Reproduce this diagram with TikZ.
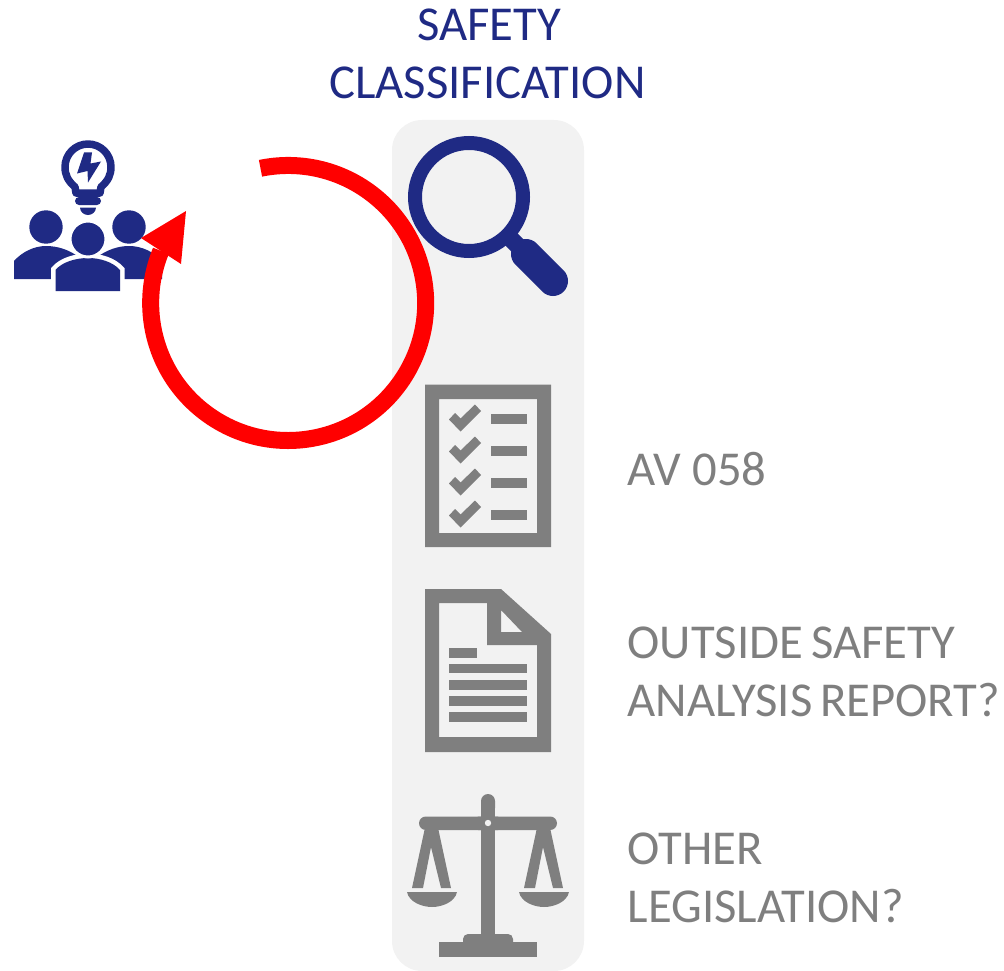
\documentclass[tikz,border=0pt]{standalone}
\usepackage{fontspec}
\setmainfont{Carlito}
\definecolor{navy}{HTML}{1F2A84}
\definecolor{icongrey}{HTML}{7F7F7F}
\definecolor{panelgrey}{HTML}{F2F2F2}
\definecolor{arcred}{HTML}{FF0000}
\tikzset{
  title/.style={text=navy,font=\fontsize{48.7}{48.7}\selectfont,anchor=base,inner sep=0pt},
  note/.style={text=icongrey,font=\fontsize{48.7}{48.7}\selectfont,anchor=base west,inner sep=0pt},
  navyfill/.style={fill=navy,draw=none},
  greyfill/.style={fill=icongrey,draw=none},
  holefill/.style={fill=panelgrey,draw=none}
}
\begin{document}
\begin{tikzpicture}[x=1pt,y=-1pt]
\useasboundingbox (0,0) rectangle (1004,971);
% panel
\fill[panelgrey,rounded corners=30pt] (392,120) rectangle (584,971);
% titles
\node[title] (t1) at (489,41) {SAFETY};
\node[title] (t2) at (487.5,99) {CLASSIFICATION};
% notes
\node[note] (n1) at (627.5,485.5) {AV 058};
\node[note] (n2) at (627.5,658.5) {OUTSIDE\hspace{-3pt} SAFETY};
\node[note] (n3) at (627.5,716.5) {ANALYSIS\hspace{-3pt} REPORT?};
\node[note] (n4) at (627.5,864.5) {OTHER};
\node[note] (n5) at (627.5,922.5) {LEGISLATION?};
% magnifier
\draw[navy,line width=14pt] (469,197) circle[radius=54pt];
\draw[navy,line width=17pt] (508,236) -- (530,258);
\draw[navy,line width=30pt,line cap=round] (526,254) -- (553,281);
% checklist
\fill[greyfill,even odd rule] (425,384.5) rectangle (551,547) (439,399) rectangle (537,533);
\foreach \y in {414,446,478,510}{
  \fill[greyfill] (491,\y) rectangle (527,\y+10);
  \fill[greyfill,shift={(0,\y-414)}] (449,419.5) -- (455,413) -- (460.5,418.5) -- (475,404.5) -- (481,411) -- (460.5,431.5) -- cycle;
}
% document
\fill[greyfill,even odd rule] (425,589) -- (501,589) -- (551,634) -- (551,752) -- (425,752) -- cycle
  (439,603) -- (487,603) -- (487,645) -- (537,645) -- (537,737) -- (439,737) -- cycle
  (501,610) -- (501,632) -- (522,632) -- cycle;
\fill[greyfill] (449,647.5) rectangle (477,657.5);
\foreach \y in {663.5,680,696,712}{\fill[greyfill] (449,\y) rectangle (527,\y+9.5);}
% scales
\fill[greyfill,rounded corners=7pt] (481,815) -- (481,794) -- (495,794) -- (495,815) -- cycle;
\fill[greyfill] (481,800) rectangle (495,945);
\fill[greyfill,rounded corners=6.8pt] (419,816.5) rectangle (557,830);
\fill[greyfill] (478,816.5) -- (498,816.5) -- (503,823) -- (498,830) -- (478,830) -- (473,823) -- cycle;
\fill[holefill] (488,823) circle[radius=3.2pt];
\fill[greyfill,rounded corners=5pt] (463,950) -- (463,934) -- (513,934) -- (513,950) -- cycle;
\fill[greyfill] (439,942) rectangle (537,957);
\foreach \dx in {0,112}{
  \begin{scope}[shift={(\dx,0)}]
    \fill[greyfill] (424.5,830) -- (412,888) -- (423,888) -- (431,847) -- (441,888) -- (451,888) -- (438.5,830) -- cycle;
    \fill[greyfill] (407,892) -- (457,892) .. controls (455,902) and (442,907) .. (432,907) .. controls (422,907) and (409,902) .. (407,892) -- cycle;
  \end{scope}
}
% bulb
\draw[navy,line width=7.5pt,line join=round] (76,193) -- (75,187) .. controls (68,181) and (65,175) .. (65,167)
   arc[start angle=180,end angle=0,radius=23pt] .. controls (111,175) and (108,181) .. (101,187) -- (100,193) -- cycle;
\fill[navyfill] (84,152.5) -- (92,152.5) -- (90.5,163.5) -- (101,161.5) -- (88,182.5) -- (87.5,171) -- (77,173.5) -- cycle;
\fill[navyfill,rounded corners=4pt] (75,197) rectangle (101,205);
\fill[navyfill] (80,207.5) -- (96,207.5) .. controls (96,212) and (92,215) .. (88,215) .. controls (84,215) and (80,212) .. (80,207.5) -- cycle;
% people
\fill[navyfill] (46,227) circle[radius=16.7pt];
\fill[navyfill] (129,227) circle[radius=16.7pt];
\fill[navyfill] (14,279) -- (14,261) .. controls (22,252) and (34,246) .. (46,246) .. controls (58,246) and (70,250) .. (80,258) -- (60,279) -- cycle;
\fill[navyfill] (162,279) -- (162,261) .. controls (154,252) and (142,246) .. (129,246) .. controls (118,246) and (106,250) .. (96,258) -- (116,279) -- cycle;
\draw[white,line width=9pt] (55.5,293) -- (55.5,270) .. controls (62,262) and (76,258) .. (88,258) .. controls (100,258) and (113,262) .. (120,270) -- (120,293) -- cycle;
\fill[navyfill] (55.5,291) -- (55.5,270) .. controls (62,262) and (76,258) .. (88,258) .. controls (100,258) and (113,262) .. (120,270) -- (120,291) -- cycle;
\fill[navy,draw=white,line width=3pt] (88,239) circle[radius=18pt];
% red arrow
\draw[arcred,line width=17pt] (260.5,168.3) arc[start angle=101.6,end angle=-202.3,radius=137.5pt];
\fill[arcred] (186,211) -- (141,238) -- (181,264) -- cycle;
\end{tikzpicture}
\end{document}
